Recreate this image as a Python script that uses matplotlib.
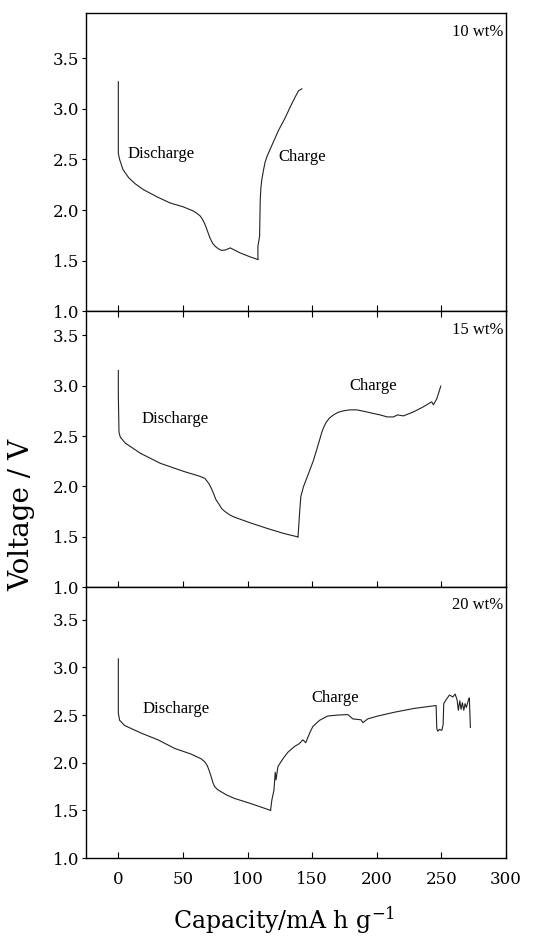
import numpy as np
import matplotlib.pyplot as plt

# 10 wt%
cap10_dis = [0, 0, 1, 3.6, 8, 13, 19.6, 30, 40, 50.5, 58, 61, 63.4, 65, 67, 69, 71, 73, 75, 77.5,
             80, 83, 86.6, 94.3, 102, 108]
v10_dis = [3.27, 2.56, 2.50, 2.40, 2.32, 2.26, 2.20, 2.13, 2.07, 2.03, 1.99, 1.965, 1.94, 1.91,
           1.86, 1.79, 1.72, 1.67, 1.64, 1.615, 1.60, 1.605, 1.625, 1.575, 1.536, 1.51]
cap10_chg = [108, 108, 109.3, 109.8, 110.3, 111, 112.4, 113.5, 115, 118.8, 124, 129, 133, 136.9,
             139.4, 142]
v10_chg = [1.51, 1.64, 1.74, 2.10, 2.22, 2.30, 2.40, 2.47, 2.53, 2.64, 2.79, 2.91, 3.02, 3.12,
           3.18, 3.20]

# 15 wt%
cap15_dis = [0, 0, 0.5, 1.5, 5.4, 17, 32.5, 50.5, 63.4, 67, 70, 72, 73.7, 75.5, 77.6, 80, 82.7,
             86, 89, 102, 115, 127.8, 139]
v15_dis = [3.15, 2.90, 2.54, 2.49, 2.43, 2.33, 2.23, 2.15, 2.10, 2.08, 2.03, 1.98, 1.93, 1.87,
           1.83, 1.78, 1.75, 1.72, 1.70, 1.64, 1.585, 1.535, 1.50]
cap15_chg = [139, 139.4, 140.2, 141.2, 143.3, 147.2, 151, 155, 157.5, 159, 161, 163.5, 166.5, 170,
             174, 179, 184.5, 192, 197, 202.6, 208, 212.9, 216, 220.6, 228.4, 236, 242.5, 243.8,
             246.4, 249.5]
v15_chg = [1.50, 1.57, 1.73, 1.90, 2.00, 2.13, 2.26, 2.43, 2.54, 2.59, 2.64, 2.68, 2.71, 2.735,
           2.75, 2.76, 2.76, 2.74, 2.725, 2.71, 2.69, 2.69, 2.71, 2.70, 2.74, 2.79, 2.84, 2.81,
           2.87, 2.995]

# 20 wt%
cap20_dis = [0, 0, 1, 4.9, 17.8, 30.7, 43.6, 56.4, 64.2, 66.8, 68.8, 70.5, 71.9, 73.2, 74.5, 77,
             79.6, 84, 90, 102.8, 117.8]
v20_dis = [3.09, 2.52, 2.445, 2.39, 2.31, 2.24, 2.15, 2.09, 2.04, 2.01, 1.97, 1.91, 1.85, 1.79,
           1.75, 1.715, 1.695, 1.66, 1.625, 1.57, 1.50]
cap20_chg = [117.8, 118.8, 120.4, 121.4, 122.0, 123.5, 127.3, 131.2, 136.3, 140, 142.8, 145, 148,
             150.5, 155.7, 162, 169.8, 177.6, 181.4, 187.9, 189.2, 193, 200.8, 213.7, 229, 245.9,
             246.4, 247.2, 248.5, 250.3, 251.3, 251.8, 253.6, 256.2, 258.8, 260.6, 262.1, 263.1,
             264.2, 265.2, 266.2, 267.3, 268.3, 269.3, 270.9, 271.6, 272.4]
v20_chg = [1.50, 1.61, 1.71, 1.90, 1.82, 1.96, 2.04, 2.11, 2.17, 2.20, 2.24, 2.21, 2.31,
           2.38, 2.445, 2.49, 2.50, 2.505, 2.46, 2.45, 2.42, 2.46, 2.49, 2.53, 2.57, 2.60,
           2.36, 2.33, 2.35, 2.34, 2.40, 2.62, 2.66, 2.71, 2.69, 2.72, 2.66, 2.55,
           2.65, 2.56, 2.63, 2.55, 2.62, 2.58, 2.66, 2.68, 2.37]

panels = [
    ("10 wt%", cap10_dis, v10_dis, cap10_chg, v10_chg, 3.95,
     (7, 2.55), (124, 2.52), [0.155, 0.6677, 0.7568, 0.3184]),
    ("15 wt%", cap15_dis, v15_dis, cap15_chg, v15_chg, 3.74,
     (18, 2.67), (179, 3.0), [0.155, 0.3725, 0.7568, 0.2952]),
    ("20 wt%", cap20_dis, v20_dis, cap20_chg, v20_chg, 3.84,
     (19, 2.56), (149, 2.68), [0.155, 0.0833, 0.7568, 0.2892]),
]

fig = plt.figure(figsize=(5.55, 9.36), dpi=100)
serif = "DejaVu Serif"
ann = "Liberation Serif"

for i, (lab, cd, vd, cc, vc, ytop, dpos, cpos, rect) in enumerate(panels):
    ax = fig.add_axes(rect)
    ax.plot(cd, vd, color="#222222", lw=0.8)
    ax.plot(cc, vc, color="#222222", lw=0.8)
    ax.set_xlim(-25, 300)
    ax.set_ylim(1.0, ytop)
    ax.set_xticks(np.arange(0, 301, 50))
    ax.set_yticks([1.0, 1.5, 2.0, 2.5, 3.0, 3.5])
    ax.set_yticklabels(["1.0", "1.5", "2.0", "2.5", "3.0", "3.5"], fontfamily=serif, fontsize=12)
    ax.tick_params(axis="y", direction="out", length=3, width=0.8, pad=2)
    ax.tick_params(axis="x", direction="in", length=4.5, width=0.8,
                   top=(i == 1), bottom=True)
    if i < 2:
        ax.set_xticklabels([])
    else:
        ax.set_xticklabels([str(t) for t in range(0, 301, 50)], fontfamily=serif, fontsize=12)
        ax.tick_params(axis="x", pad=9)
    for s in ax.spines.values():
        s.set_linewidth(1.0)
    ax.text(298, ytop - 0.19, lab, ha="right", va="center", fontfamily=ann, fontsize=12)
    ax.text(dpos[0], dpos[1], "Discharge", ha="left", va="center", fontfamily=ann, fontsize=12)
    ax.text(cpos[0], cpos[1], "Charge", ha="left", va="center", fontfamily=ann, fontsize=12)

fig.text(0.04, 0.45, "Voltage / V", rotation=90, ha="center", va="center",
         fontfamily=serif, fontsize=20)
plt.rcParams["mathtext.fontset"] = "dejavuserif"
fig.text(0.511, 0.017, r"Capacity/mA h g$^{-1}$", ha="center", va="center",
         fontfamily=serif, fontsize=17)

fig.savefig("out.png", dpi=100)
